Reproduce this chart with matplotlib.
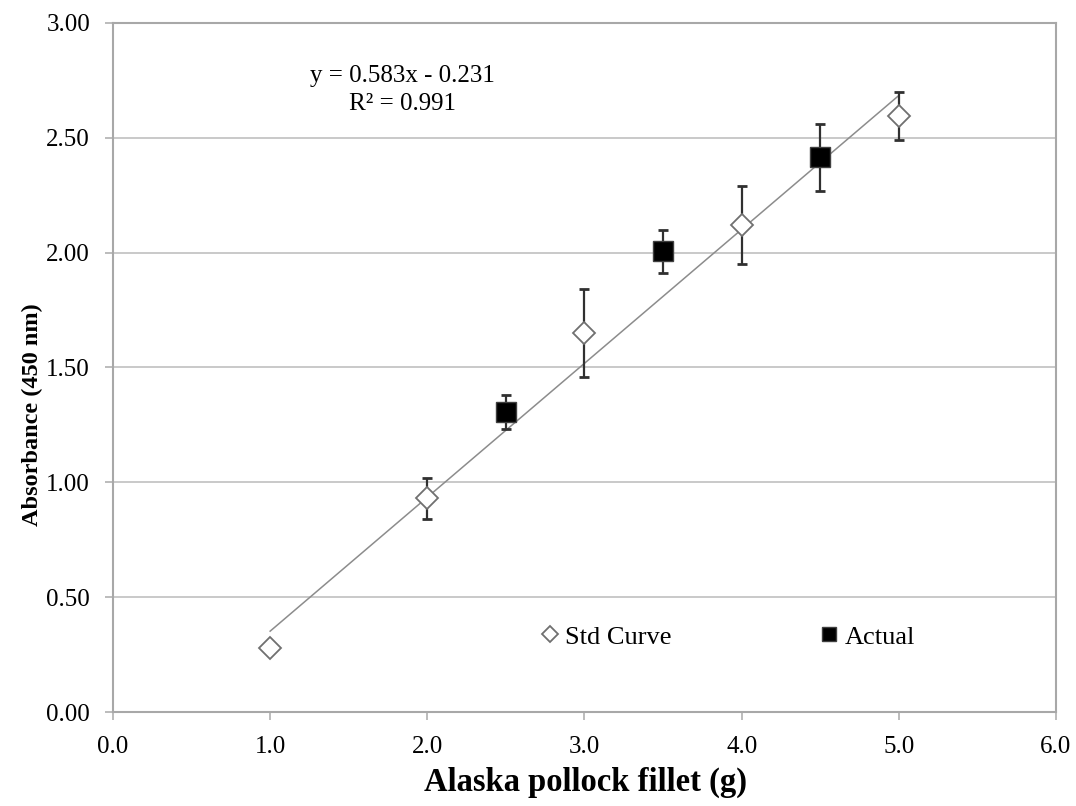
import numpy as np
import matplotlib.pyplot as plt

plt.rcParams['font.family'] = ['Liberation Serif', 'DejaVu Serif']

# Standard curve data
std_x = [1.0, 2.0, 3.0, 4.0, 5.0]
std_y = [0.28, 0.93, 1.65, 2.12, 2.595]
std_err = [0.0, 0.09, 0.19, 0.17, 0.105]

# Actual samples
act_x = [2.5, 3.5, 4.5]
act_y = [1.305, 2.005, 2.415]
act_err = [0.075, 0.095, 0.145]

# Linear trendline from the chart
slope = 0.583
intercept = -0.231
fit_range = [1.0, 5.0]

xticks = [0, 1, 2, 3, 4, 5, 6]
yticks = [0, 0.5, 1.0, 1.5, 2.0, 2.5, 3.0]

fig = plt.figure(figsize=(10.76, 8.06), dpi=100)
ax = fig.add_axes([0.105, 0.1166, 0.8764, 0.855])

# gridlines
ax.set_axisbelow(True)
ax.yaxis.grid(True, color='#c0c0c0', lw=1.2)

# trendline
fx = np.array(fit_range)
ax.plot(fx, slope * fx + intercept, color='#8c8c8c', lw=1.1, zorder=2)

# error bars
ax.errorbar(std_x, std_y, yerr=std_err, fmt='none', ecolor='#303030',
            elinewidth=1.6, capsize=3.5, capthick=2, zorder=3)
ax.errorbar(act_x, act_y, yerr=act_err, fmt='none', ecolor='#303030',
            elinewidth=1.6, capsize=3.5, capthick=2, zorder=3)

# markers
ax.plot(std_x, std_y, 'D', ms=11, mfc='white', mec='#707070', mew=1.3,
        ls='none', label='Std Curve', zorder=4)
ax.plot(act_x, act_y, 's', ms=14, mfc='black', mec='#404040', mew=1,
        ls='none', label='Actual', zorder=4)

ax.set_xlim(0, 6)
ax.set_ylim(0, 3)
ax.set_xticks(xticks)
ax.set_yticks(yticks)
ax.set_xticklabels(['%.1f' % v for v in xticks])
ax.set_yticklabels(['%.2f' % v for v in yticks])
ax.tick_params(labelsize=18, length=6, color='#b0b0b0', width=1.2)
ax.tick_params(axis='x', pad=11)
ax.tick_params(axis='y', pad=10.5)

for s in ax.spines.values():
    s.set_color('#a8a8a8')
    s.set_linewidth(1.5)

ax.set_xlabel('Alaska pollock fillet (g)', fontsize=23.5, fontweight='bold')
ax.set_ylabel('Absorbance (450 nm)', fontsize=17.5, fontweight='bold')
ax.xaxis.set_label_coords(0.5016, -0.08)
ax.yaxis.set_label_coords(-0.074, 0.432)

ax.text(0.3065, 0.902, 'y = 0.583x - 0.231\nR² = 0.991', transform=ax.transAxes,
        ha='center', va='center', fontsize=18, linespacing=1.35)

ax.legend(loc='center', bbox_to_anchor=(0.652, 0.109), ncol=2, frameon=False,
          fontsize=19, markerscale=0.75, handlelength=0.7, handletextpad=0.25,
          columnspacing=5.6)

fig.savefig('out.png', dpi=100)
